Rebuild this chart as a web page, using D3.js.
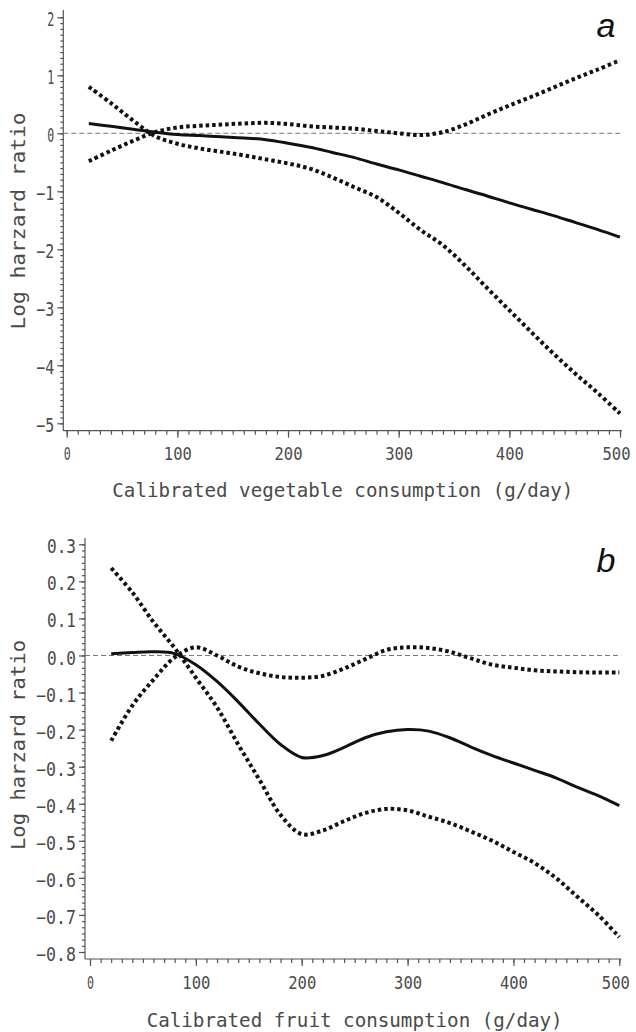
<!DOCTYPE html>
<html>
<head>
<meta charset="utf-8">
<script src="https://cdn.jsdelivr.net/npm/d3@7"></script>
<style>
  body { margin: 0; background: #fff; }
  svg text { font-family: "DejaVu Sans Mono", monospace; fill: #4a4a4a; }
</style>
</head>
<body>
<div id="chart"></div>
<script>
// consumption grid (g/day)
const xGrid = [20, 40, 60, 80, 100, 120, 140, 160, 180, 200, 220, 240, 260, 280, 300,
               320, 340, 360, 380, 400, 420, 440, 460, 480, 500];

// panel a: vegetables
const vegEstimate = [0.17, 0.12, 0.07, 0.02, -0.02, -0.04, -0.06, -0.08, -0.11, -0.17, -0.24, -0.33, -0.42,
                     -0.53, -0.63, -0.74, -0.85, -0.97, -1.08, -1.20, -1.31, -1.42, -1.54, -1.66, -1.79];
const vegLower = [0.80, 0.52, 0.22, -0.05, -0.18, -0.26, -0.32, -0.38, -0.45, -0.52, -0.61, -0.76, -0.93,
                  -1.10, -1.37, -1.67, -1.93, -2.28, -2.67, -3.05, -3.43, -3.80, -4.15, -4.48, -4.83];
const vegUpper = [-0.48, -0.30, -0.13, 0.02, 0.10, 0.13, 0.15, 0.17, 0.18, 0.16, 0.12, 0.10, 0.08,
                  0.04, 0.00, -0.03, 0.02, 0.15, 0.32, 0.48, 0.63, 0.79, 0.95, 1.10, 1.26];

// panel b: fruit
const fruitEstimate = [0.005, 0.008, 0.01, 0.005, -0.025, -0.07, -0.125, -0.185, -0.24, -0.275, -0.27, -0.248, -0.222,
                       -0.206, -0.200, -0.204, -0.222, -0.247, -0.27, -0.29, -0.31, -0.33, -0.355, -0.378, -0.405];
const fruitLower = [0.236, 0.17, 0.09, 0.02, -0.06, -0.14, -0.24, -0.335, -0.43, -0.482, -0.472, -0.447, -0.425,
                    -0.414, -0.418, -0.435, -0.452, -0.475, -0.50, -0.53, -0.56, -0.60, -0.65, -0.70, -0.76];
const fruitUpper = [-0.23, -0.135, -0.065, -0.005, 0.022, 0.0, -0.03, -0.048, -0.058, -0.06, -0.055, -0.035, -0.01,
                    0.015, 0.022, 0.02, 0.01, -0.008, -0.025, -0.033, -0.04, -0.043, -0.045, -0.046, -0.046];

const xTicks = [0, 100, 200, 300, 400, 500];
const vegYTicks = [-5, -4, -3, -2, -1, 0, 1, 2];
const fruitYTicks = [-0.8, -0.7, -0.6, -0.5, -0.4, -0.3, -0.2, -0.1, 0.0, 0.1, 0.2, 0.3];

const width = 636, height = 1032;
const svg = d3.select("#chart").append("svg")
    .attr("width", width)
    .attr("height", height);

function drawPanel(cfg) {
  const g = svg.append("g");
  const x = d3.scaleLinear().domain([0, 500]).range(cfg.xRange);
  const y = d3.scaleLinear().domain(cfg.yDomain).range(cfg.yRange);

  // y axis: major + minor ticks
  const minorY = d3.range(cfg.yDomain[0], cfg.yDomain[1] + 1e-9, cfg.yMinor)
      .map(v => +v.toFixed(4));
  const yAxisG = g.append("g").attr("transform", `translate(${cfg.axisX},0)`);
  yAxisG.append("line")
      .attr("y1", cfg.yTop).attr("y2", cfg.axisY)
      .attr("stroke", "#555").attr("stroke-width", 1.3);
  yAxisG.call(d3.axisLeft(y).tickValues(minorY).tickSize(3).tickFormat(""))
      .call(a => a.select(".domain").remove())
      .call(a => a.selectAll("line").attr("stroke", "#555").attr("stroke-width", 1.2));
  const yMaj = g.append("g").attr("transform", `translate(${cfg.axisX},0)`)
      .call(d3.axisLeft(y).tickValues(cfg.yTicks).tickSize(6).tickPadding(3).tickFormat(cfg.yFormat))
      .call(a => a.select(".domain").remove())
      .call(a => a.selectAll("line").attr("stroke", "#555").attr("stroke-width", 1.2));
  yMaj.selectAll("text")
      .attr("font-size", 19)
      .attr("dy", "0.45em")
      .attr("textLength", function() { return this.textContent.length * 11 - 4; })
      .attr("lengthAdjust", "spacingAndGlyphs");

  // x axis
  const xAxisG = g.append("g").attr("transform", `translate(0,${cfg.axisY})`);
  xAxisG.append("line")
      .attr("x1", cfg.axisX).attr("x2", cfg.xRange[1] + 2)
      .attr("stroke", "#555").attr("stroke-width", 1.3);
  xAxisG.call(d3.axisBottom(x).tickValues(d3.range(0, 501, 10)).tickSize(4).tickFormat(""))
      .call(a => a.select(".domain").remove())
      .call(a => a.selectAll("line").attr("stroke", "#555").attr("stroke-width", 1.2));
  const xMaj = g.append("g").attr("transform", `translate(0,${cfg.axisY})`)
      .call(d3.axisBottom(x).tickValues(xTicks).tickSize(7).tickPadding(10).tickFormat(d3.format("d")))
      .call(a => a.select(".domain").remove())
      .call(a => a.selectAll("line").attr("stroke", "#555").attr("stroke-width", 1.2));
  xMaj.selectAll("text")
      .attr("font-size", 18)
      .attr("dx", d => d === 500 ? -4 : 0)
      .attr("textLength", function() { return this.textContent.length * 10.5 - 3.5; })
      .attr("lengthAdjust", "spacingAndGlyphs");

  // axis titles
  g.append("text")
      .attr("x", (cfg.xRange[0] + cfg.xRange[1]) / 2 + cfg.xTitleShift)
      .attr("y", cfg.xTitleY)
      .attr("text-anchor", "middle")
      .attr("font-size", 20)
      .attr("textLength", cfg.xTitleLen)
      .attr("lengthAdjust", "spacingAndGlyphs")
      .text(cfg.xTitle);
  g.append("text")
      .attr("transform", `translate(25,${cfg.yTitleMid}) rotate(-90)`)
      .attr("text-anchor", "middle")
      .attr("font-size", 20)
      .attr("textLength", cfg.yTitleLen)
      .attr("lengthAdjust", "spacingAndGlyphs")
      .text("Log harzard ratio");

  // reference line at zero
  g.append("line")
      .attr("x1", cfg.axisX).attr("x2", cfg.xRange[1] + 2)
      .attr("y1", y(0)).attr("y2", y(0))
      .attr("stroke", "#777").attr("stroke-width", 1)
      .attr("stroke-dasharray", "5,3");

  const line = d3.line()
      .x((d, i) => x(xGrid[i]))
      .y(d => y(d))
      .curve(d3.curveCatmullRom.alpha(0.5));

  [cfg.lower, cfg.upper].forEach(s => {
    g.append("path")
        .attr("d", line(s))
        .attr("fill", "none")
        .attr("stroke", "#111")
        .attr("stroke-width", 4)
        .attr("stroke-dasharray", "3.5,3");
  });
  g.append("path")
      .attr("d", line(cfg.estimate))
      .attr("fill", "none")
      .attr("stroke", "#111")
      .attr("stroke-width", 3);

  g.append("text")
      .attr("x", 606).attr("y", cfg.letterY)
      .attr("text-anchor", "middle")
      .style("font-family", "'Liberation Sans', Arial, sans-serif")
      .style("font-style", "italic")
      .style("fill", "#111")
      .attr("font-size", 34)
      .text(cfg.letter);
}

drawPanel({
  xRange: [66.7, 620], axisX: 63.3, axisY: 430.7, yTop: 10,
  yDomain: [-5, 2], yRange: [423.3, 17.3], yMinor: 0.1,
  yTicks: vegYTicks, yFormat: d3.format("d"),
  estimate: vegEstimate, lower: vegLower, upper: vegUpper,
  xTitle: "Calibrated vegetable consumption (g/day)", xTitleY: 497, xTitleLen: 461, xTitleShift: -0.5,
  yTitleMid: 221, yTitleLen: 217,
  letter: "a", letterY: 37
});

drawPanel({
  xRange: [90, 619.3], axisX: 85, axisY: 959, yTop: 538,
  yDomain: [-0.8, 0.3], yRange: [952, 544.3], yMinor: 0.1 / 6,
  yTicks: fruitYTicks, yFormat: d3.format(".1f"),
  estimate: fruitEstimate, lower: fruitLower, upper: fruitUpper,
  xTitle: "Calibrated fruit consumption (g/day)", xTitleY: 1027, xTitleLen: 416, xTitleShift: 0,
  yTitleMid: 745, yTitleLen: 210,
  letter: "b", letterY: 572
});
</script>
</body>
</html>
